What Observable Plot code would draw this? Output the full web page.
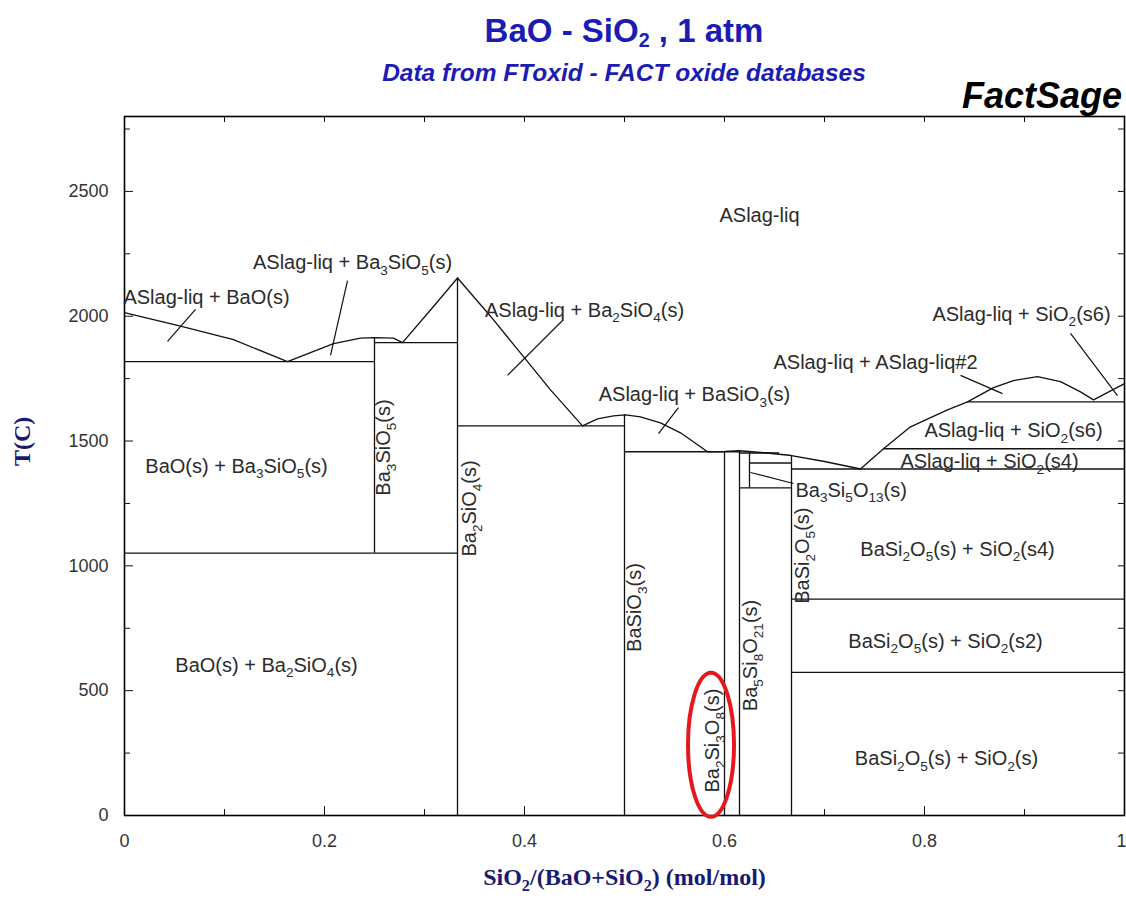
<!DOCTYPE html>
<html><head><meta charset="utf-8">
<script src="https://cdn.jsdelivr.net/npm/d3@7"></script>
<script src="https://cdn.jsdelivr.net/npm/@observablehq/plot@0.6"></script>
<style>
body{margin:0;background:#fff;}
#wrap{position:relative;width:1126px;}
#head{position:relative;height:100px;}
.t{position:absolute;white-space:nowrap;line-height:1;font-family:'Liberation Sans',Arial,sans-serif;}
.t sub{font-size:0.6em;vertical-align:-0.25em;line-height:0;}
</style></head><body>
<div id="wrap">
<div id="head">
 <div class="t" style="left:124px;width:1000px;text-align:center;top:14px;font-size:33px;font-weight:bold;color:#1c1cb4">BaO - SiO<sub>2</sub> , 1 atm</div>
 <div class="t" style="left:124px;width:1000px;text-align:center;top:61px;font-size:24.5px;font-weight:bold;font-style:italic;color:#1c1cb4">Data from FToxid - FACT oxide databases</div>
 <div class="t" style="right:4px;top:78px;font-size:36px;font-weight:bold;font-style:italic;color:#000">FactSage</div>
</div>
<div id="chart"></div>
</div>
<script>
// liquidus curve [x, T]
const liquidus = [[0,2014],[0.056,1960],[0.109,1906],[0.163,1818],[0.209,1890],[0.236,1912],[0.25,1914],[0.269,1912],[0.278,1894],[0.309,2039],[0.333,2153],[0.366,2000],[0.399,1838],[0.426,1705],[0.458,1561],[0.473,1589],[0.489,1601],[0.501,1605],[0.516,1597],[0.536,1573],[0.556,1533],[0.583,1457],[0.6,1458],[0.615,1461],[0.64,1453],[0.667,1442],[0.70,1418],[0.736,1388],[0.759,1469],[0.786,1557],[0.823,1625],[0.843,1657],[0.869,1714],[0.889,1742],[0.913,1758],[0.936,1738],[0.956,1697],[0.969,1665],[1.0,1730]];
// horizontal invariant lines [x1, x2, T]
const horizontals = [[0,0.25,1818],[0,0.333,1051],[0.25,0.333,1894],[0.333,0.5,1561],[0.5,0.615,1457],[0.615,0.655,1452],[0.625,0.667,1412],[0.615,0.667,1312],[0.667,1,1388],[0.759,1,1469],[0.843,1,1657],[0.667,1,867],[0.667,1,573]];
// vertical compound lines [x, T1, T2]
const verticals = [[0.25,1051,1912],[0.333,0,2153],[0.5,0,1605],[0.6,0,1457],[0.615,0,1461],[0.625,1312,1452],[0.667,0,1442]];
// leader lines [x1, T1, x2, T2]
const leaders = [[0.071,2027,0.043,1899],[0.223,2143,0.206,1843],[0.438,1983,0.383,1763],[0.554,1634,0.534,1530],[0.626,1374,0.669,1330],[0.836,1763,0.878,1690],[0.946,1931,0.993,1682]];
// region labels [x, T, text]
const regionLabels = [
 [0.635,2403,"ASlag-liq"],
 [0.228,2215,"ASlag-liq + Ba_3SiO_5(s)"],
 [0.082,2075,"ASlag-liq + BaO(s)"],
 [0.46,2023,"ASlag-liq + Ba_2SiO_4(s)"],
 [0.57,1686,"ASlag-liq + BaSiO_3(s)"],
 [0.897,2007,"ASlag-liq + SiO_2(s6)"],
 [0.751,1815,"ASlag-liq + ASlag-liq#2"],
 [0.889,1542,"ASlag-liq + SiO_2(s6)"],
 [0.865,1418,"ASlag-liq + SiO_2(s4)"],
 [0.112,1398,"BaO(s) + Ba_3SiO_5(s)"],
 [0.142,601,"BaO(s) + Ba_2SiO_4(s)"],
 [0.833,1066,"BaSi_2O_5(s) + SiO_2(s4)"],
 [0.821,697,"BaSi_2O_5(s) + SiO_2(s2)"],
 [0.822,228,"BaSi_2O_5(s) + SiO_2(s)"]
];
// compound labels (vertical) [x, T, text]
const compoundLabels = [
 [0.259,1474,"Ba_3SiO_5(s)"],
 [0.345,1230,"Ba_2SiO_4(s)"],
 [0.510,833,"BaSiO_3(s)"],
 [0.588,300,"Ba_2Si_3O_8(s)"],
 [0.626,641,"Ba_5Si_8O_21(s)"],
 [0.678,1041,"BaSi_2O_5(s)"]
];
const sideLabels = [[0.671,1302,"Ba_3Si_5O_13(s)"]];
const xTicks = [0,0.2,0.4,0.6,0.8,1];
const xMinorTicks = [0.1,0.3,0.5,0.7,0.9];
const yTicks = [0,500,1000,1500,2000,2500];
const yMinorTicks = [250,750,1250,1750,2250,2750];
const highlight = [0.587,281];
const xLabel = "SiO_2/(BaO+SiO_2) (mol/mol)";
const yLabel = "T(C)";

const W = 1126, H = 799, mT = 16, mB = 84, mL = 124, mR = 2;
const iw = W - mL - mR, ih = H - mT - mB;
const major = 9, minor = 6;
const ink = "#111", txt = "#2b2b2b", navy = "#1a1a70";
const fs = 20;

const plot = Plot.plot({
  width: W, height: H, marginTop: mT, marginBottom: mB, marginLeft: mL, marginRight: mR,
  x: {domain: [0, 1]},
  y: {domain: [0, 2800]},
  style: {fontFamily: "'Liberation Sans', Arial, sans-serif", fontSize: "18px", color: "#333", background: "white", overflow: "visible"},
  marks: [
    Plot.line(liquidus, {x: d => d[0], y: d => d[1], stroke: ink, strokeWidth: 1.3}),
    Plot.ruleY(horizontals, {y: d => d[2], x1: d => d[0], x2: d => d[1], stroke: ink, strokeWidth: 1.3}),
    Plot.ruleX(verticals, {x: d => d[0], y1: d => d[1], y2: d => d[2], stroke: ink, strokeWidth: 1.3}),
    Plot.link(leaders, {x1: d => d[0], y1: d => d[1], x2: d => d[2], y2: d => d[3], stroke: ink, strokeWidth: 1.2}),
    // inward ticks
    Plot.tickX(xTicks, {x: d => d, insetTop: ih - major, stroke: ink}),
    Plot.tickX(xMinorTicks, {x: d => d, insetTop: ih - minor, stroke: ink}),
    Plot.tickX(xTicks.concat(xMinorTicks), {x: d => d, insetBottom: ih - minor, stroke: ink}),
    Plot.tickY(yTicks, {y: d => d, insetRight: iw - major, stroke: ink}),
    Plot.tickY(yMinorTicks, {y: d => d, insetRight: iw - minor, stroke: ink}),
    Plot.tickY(yTicks.concat(yMinorTicks), {y: d => d, insetLeft: iw - minor, stroke: ink}),
    Plot.axisX(xTicks.slice(0, -1), {tickSize: 0, tickPadding: 19, tickFormat: d => String(d), label: null, fill: "#333"}),
    Plot.axisX(xTicks.slice(-1), {tickSize: 0, tickPadding: 19, tickFormat: d => String(d), label: null, fill: "#333", dx: -3}),
    Plot.axisY(yTicks, {tickSize: 0, tickPadding: 16, tickFormat: d => String(d), label: null, fill: "#333"}),
    Plot.frame({stroke: "#000", strokeWidth: 1.6}),
    Plot.text(regionLabels, {x: d => d[0], y: d => d[1], text: d => d[2], fontSize: fs, fill: txt}),
    Plot.text(compoundLabels, {x: d => d[0], y: d => d[1], text: d => d[2], fontSize: fs, fill: txt, rotate: -90}),
    Plot.text(sideLabels, {x: d => d[0], y: d => d[1], text: d => d[2], fontSize: fs, fill: txt, textAnchor: "start"}),
    Plot.text([xLabel], {frameAnchor: "bottom", dy: 69, text: d => d, fontSize: 24, fontWeight: "bold", fontFamily: "'Liberation Serif', 'Times New Roman', serif", fill: navy}),
    Plot.text([yLabel], {frameAnchor: "left", dx: -102, text: d => d, rotate: -90, fontSize: 24, fontWeight: "bold", fontFamily: "'Liberation Serif', 'Times New Roman', serif", fill: navy}),
    (index, scales) => {
      const e = d3.create("svg:ellipse")
        .attr("cx", scales.x(highlight[0])).attr("cy", scales.y(highlight[1]))
        .attr("rx", 23).attr("ry", 72)
        .attr("fill", "none").attr("stroke", "#e5171f").attr("stroke-width", 4);
      return e.node();
    }
  ]
});
document.getElementById("chart").appendChild(plot);

// subscripts: "_n" marks a subscript digit run
const ns = "http://www.w3.org/2000/svg";
plot.querySelectorAll("text").forEach(t => {
  const leaves = t.querySelector("tspan") ? [...t.querySelectorAll("tspan")] : [t];
  leaves.forEach(el => {
    const s = el.textContent;
    if (!s.includes("_")) return;
    const f = parseFloat(getComputedStyle(el).fontSize) || fs;
    const sh = f * 0.28;
    el.textContent = "";
    let shifted = false;
    s.split(/_(\d+)/).forEach((p, i) => {
      const ts = document.createElementNS(ns, "tspan");
      ts.textContent = p;
      if (i % 2 === 1) { ts.setAttribute("font-size", f * 0.68); ts.setAttribute("dy", sh); shifted = true; }
      else if (shifted) { ts.setAttribute("dy", -sh); shifted = false; }
      el.appendChild(ts);
    });
  });
});
</script>
</body></html>
